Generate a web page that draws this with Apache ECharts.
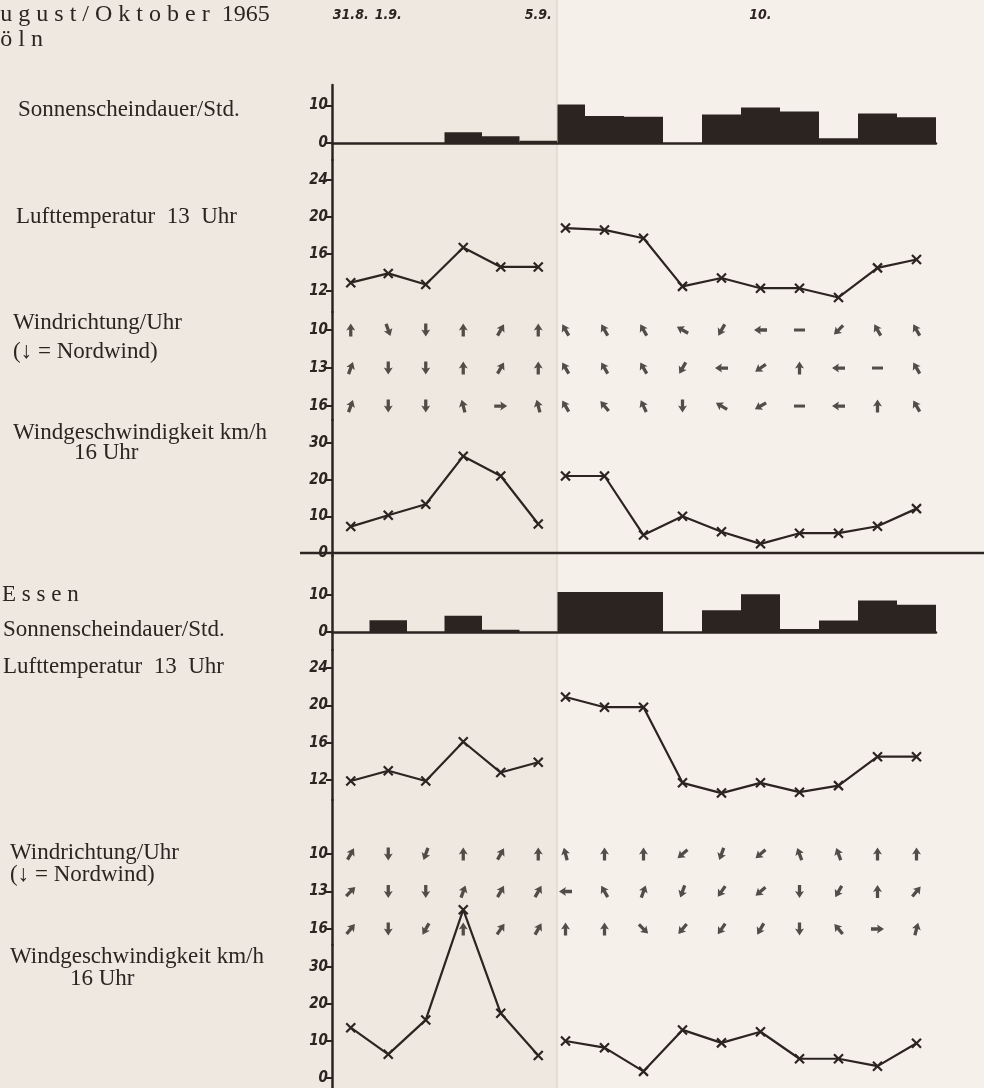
<!DOCTYPE html>
<html>
<head>
<meta charset="utf-8">
<script src="https://cdn.jsdelivr.net/npm/echarts@6/dist/echarts.min.js"></script>
<style>
html, body { margin: 0; padding: 0; background: #f5f0ea; }
#chart { width: 984px; height: 1088px; }
</style>
</head>
<body>
<div id="chart"></div>
<script>
// Tage: linke Seite bis 5.9., rechte Seite beginnt wieder mit dem 5.
const daysLeft = ['31.8.', '1.9.', '2.9.', '3.9.', '4.9.', '5.9.'];
const daysRight = ['5.', '6.', '7.', '8.', '9.', '10.', '11.', '12.', '13.', '14.'];
const dateLabels = ['31.8.', '1.9.', '5.9.', '10.'];
const windHours = [10, 13, 16];

// Köln
const koelnSunLeft = [0, 0, 0, 2.9, 1.8, 0.6];
const koelnSunRight = [10.3, 7.2, 7.0, 0, 7.6, 9.5, 8.4, 1.3, 7.9, 6.9];
const koelnTempLeft = [12.9, 13.9, 12.7, 16.7, 14.6, 14.6];
const koelnTempRight = [18.8, 18.6, 17.7, 12.5, 13.4, 12.3, 12.3, 11.3, 14.5, 15.4];
const koelnSpeedLeft = [7.2, 10.3, 13.3, 26.4, 21.0, 7.9];
const koelnSpeedRight = [21.0, 21.0, 4.9, 10.0, 5.8, 2.5, 5.4, 5.4, 7.3, 12.1];
// Pfeilrichtung in Grad (0 = nach oben, im Uhrzeigersinn), null = Windstille
const koelnWind10Left = [0, 160, 180, 0, 30, 0];
const koelnWind10Right = [330, 330, 330, 300, 210, 270, null, 225, 330, 330];
const koelnWind13Left = [20, 180, 180, 0, 30, 0];
const koelnWind13Right = [330, 330, 330, 210, 270, 235, 0, 270, null, 330];
const koelnWind16Left = [20, 180, 180, 345, 90, 345];
const koelnWind16Right = [330, 320, 335, 180, 300, 240, null, 270, 0, 330];

// Essen
const essenSunLeft = [0, 3.2, 0, 4.4, 0.6, 0];
const essenSunRight = [10.8, 10.8, 10.8, 0, 5.9, 10.2, 0.8, 3.1, 8.5, 7.4];
const essenTempLeft = [11.9, 13.0, 11.9, 16.1, 12.8, 13.9];
const essenTempRight = [20.9, 19.8, 19.8, 11.7, 10.6, 11.7, 10.7, 11.4, 14.5, 14.5];
const essenSpeedLeft = [13.6, 6.4, 15.7, 45.5, 17.5, 6.1];
const essenSpeedRight = [10.0, 8.2, 1.8, 13.0, 9.5, 12.5, 5.2, 5.2, 3.2, 9.4];
const essenWind10Left = [30, 180, 200, 0, 30, 0];
const essenWind10Right = [345, 0, 0, 230, 200, 230, 340, 340, 0, 0];
const essenWind13Left = [45, 180, 180, 20, 30, 30];
const essenWind13Right = [270, 330, 20, 200, 215, 230, 180, 210, 0, 40];
const essenWind16Left = [40, 180, 210, 0, 35, 30];
const essenWind16Right = [0, 0, 135, 220, 215, 210, 180, 320, 90, 15];

const ink = '#2b2421';
const numFont = "'DejaVu Sans Condensed', 'DejaVu Sans', sans-serif";
const textFont = '"Liberation Serif", serif';

// Bänder von oben nach unten: Sonne, Temperatur, Windrichtung, Windgeschwindigkeit
const bands = [
    {top: 85, height: 75, min: -4.53, max: 15.47, ticks: [0, 10], base: true},
    {top: 160, height: 152, min: 9.73, max: 26.16, ticks: [12, 16, 20, 24]},
    {top: 312, height: 108, min: 8.58, max: 17.1, ticks: [10, 13, 16], inverse: true},
    {top: 420, height: 136, min: -0.82, max: 36.27, ticks: [0, 10, 20, 30]},
    {top: 556, height: 94, min: -4.86, max: 20.54, ticks: [0, 10], base: true},
    {top: 650, height: 150, min: 9.86, max: 25.93, ticks: [12, 16, 20, 24]},
    {top: 800, height: 145, min: 5.68, max: 17.28, ticks: [10, 13, 16], inverse: true},
    {top: 945, height: 143, min: -2.7, max: 35.95, ticks: [0, 10, 20, 30]}
];
const sides = [{left: 332, width: 225}, {left: 546, width: 390}];

const xMark = 'path://M0,0L10,10M10,0L0,10';
const arrow = 'path://M5,0L10.5,8L7,7L7,15L3,15L3,7L-0.5,8Z';

let grid = [], xAxis = [], yAxis = [], series = []

bands.forEach((b, r) => {
    sides.forEach((s, side) => {
        let g = r * 2 + side
        let z = side ? 1 : 10
        grid.push({left: s.left, width: s.width, top: b.top, height: b.height})
        xAxis.push({
            type: 'category', gridIndex: g, data: side ? daysRight : daysLeft, z: z,
            axisLine: {show: !!b.base, onZero: true, lineStyle: {color: ink, width: 2.5}},
            axisTick: {show: false}, axisLabel: {show: false}
        })
        yAxis.push({
            type: 'value', gridIndex: g, min: b.min, max: b.max, inverse: !!b.inverse, z: z,
            splitLine: {show: false},
            axisLine: {show: !side, lineStyle: {color: ink, width: 2.5}},
            axisTick: {show: !side, customValues: b.ticks, length: 6, lineStyle: {color: ink, width: 2}},
            axisLabel: {
                show: !side, customValues: b.ticks, margin: 4, color: ink,
                fontFamily: numFont, fontStyle: 'italic', fontWeight: 'bold', fontSize: 15
            }
        })
    })
})

// Datumszeile oben
sides.forEach((s, side) => {
    xAxis.push({
        type: 'category', gridIndex: side, position: 'top', data: side ? daysRight : daysLeft, z: 10,
        axisLine: {show: false, onZero: false}, axisTick: {show: false},
        axisLabel: {
            interval: 0, margin: 63, color: ink, fontFamily: numFont,
            fontStyle: 'italic', fontWeight: 'bold', fontSize: 14,
            formatter: v => dateLabels.includes(v) ? v : ''
        }
    })
})

function windData(rows) {
    let out = []
    rows.forEach((dirs, r) => {
        dirs.forEach((d, i) => {
            if (d === null) {
                out.push({value: [i, windHours[r]], symbol: 'rect', symbolSize: [11, 3]})
            } else {
                out.push({value: [i, windHours[r]], symbolRotate: -d})
            }
        })
    })
    return out
}

const stations = [
    {
        sun: [koelnSunLeft, koelnSunRight], temp: [koelnTempLeft, koelnTempRight],
        speed: [koelnSpeedLeft, koelnSpeedRight],
        wind: [[koelnWind10Left, koelnWind13Left, koelnWind16Left], [koelnWind10Right, koelnWind13Right, koelnWind16Right]]
    },
    {
        sun: [essenSunLeft, essenSunRight], temp: [essenTempLeft, essenTempRight],
        speed: [essenSpeedLeft, essenSpeedRight],
        wind: [[essenWind10Left, essenWind13Left, essenWind16Left], [essenWind10Right, essenWind13Right, essenWind16Right]]
    }
]

stations.forEach((st, k) => {
    [0, 1].forEach(side => {
        let z = side ? 2 : 10
        let gi = row => (k * 4 + row) * 2 + side
        series.push({
            type: 'bar', xAxisIndex: gi(0), yAxisIndex: gi(0), data: st.sun[side],
            barCategoryGap: '0%', itemStyle: {color: ink}, z: z
        })
        let lineOpts = {
            type: 'line', symbol: xMark, symbolSize: 9, clip: false, z: z,
            itemStyle: {color: ink, borderColor: ink, borderWidth: 2.2},
            lineStyle: {color: ink, width: 2.2}
        }
        series.push(Object.assign({xAxisIndex: gi(1), yAxisIndex: gi(1), data: st.temp[side]}, lineOpts))
        series.push({
            type: 'scatter', xAxisIndex: gi(2), yAxisIndex: gi(2), data: windData(st.wind[side]),
            symbol: arrow, symbolSize: [9, 13], itemStyle: {color: ink}, z: z
        })
        series.push(Object.assign({xAxisIndex: gi(3), yAxisIndex: gi(3), data: st.speed[side]}, lineOpts))
    })
})

let chart = echarts.init(document.getElementById('chart'))
chart.setOption({
    animation: false,
    backgroundColor: '#f5f0ea',
    grid: grid, xAxis: xAxis, yAxis: yAxis, series: series
})

// Trennlinie zwischen Köln und Essen liegt auf 0 km/h
let sepY = chart.convertToPixel({yAxisIndex: 6}, 0)
let label = (text, x, y, size) => ({
    type: 'text', z: 20,
    style: {text: text, x: x, y: y, font: size + 'px ' + textFont, fill: ink, textVerticalAlign: 'middle'}
})
chart.setOption({
    graphic: [
        {type: 'rect', z: 5, shape: {x: 0, y: 0, width: 557, height: 1088}, style: {fill: '#efe8e1'}},
        {type: 'line', z: 6, shape: {x1: 557, y1: 0, x2: 557, y2: 1088}, style: {stroke: '#d9d0c6', lineWidth: 1}},
        {type: 'line', z: 20, shape: {x1: 300, y1: sepY, x2: 984, y2: sepY}, style: {stroke: ink, lineWidth: 2.5}},
        label('A u g u s t / O k t o b e r  1965', -23, 15, 24),
        label('K ö l n', -23, 40, 24),
        label('Sonnenscheindauer/Std.', 18, 110, 23),
        label('Lufttemperatur  13  Uhr', 16, 217, 23),
        label('Windrichtung/Uhr', 13, 323, 23),
        label('(↓ = Nordwind)', 13, 352, 23),
        label('Windgeschwindigkeit km/h', 13, 433, 23),
        label('16 Uhr', 74, 453, 23),
        label('E s s e n', 2, 595, 23),
        label('Sonnenscheindauer/Std.', 3, 630, 23),
        label('Lufttemperatur  13  Uhr', 3, 667, 23),
        label('Windrichtung/Uhr', 10, 853, 23),
        label('(↓ = Nordwind)', 10, 875, 23),
        label('Windgeschwindigkeit km/h', 10, 957, 23),
        label('16 Uhr', 70, 979, 23)
    ]
})
</script>
</body>
</html>
